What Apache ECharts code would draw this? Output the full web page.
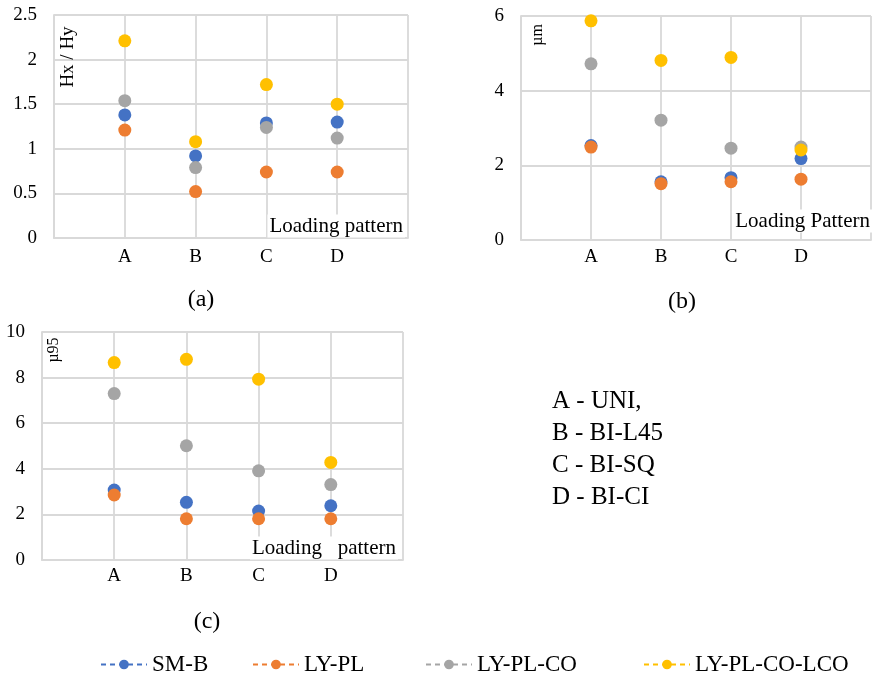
<!DOCTYPE html>
<html>
<head>
<meta charset="utf-8">
<script src="https://cdn.jsdelivr.net/npm/echarts@6/dist/echarts.min.js"></script>
<style>
  html, body { margin: 0; padding: 0; background: #fff; }
  #chart { width: 874px; height: 677px; }
</style>
</head>
<body>
<div id="chart"></div>
<script>
// Loading patterns (x positions 1..4)
const patterns = ['A', 'B', 'C', 'D'];
const patternNames = ['A - UNI,', 'B - BI-L45', 'C - BI-SQ', 'D - BI-CI'];
const seriesNames = ['SM-B', 'LY-PL', 'LY-PL-CO', 'LY-PL-CO-LCO'];
const seriesColors = ['#4472C4', '#ED7D31', '#A5A5A5', '#FFC000'];

// (a) Hx / Hy
const hxhySMB   = [1.38, 0.92, 1.29, 1.30];
const hxhyLYPL  = [1.21, 0.52, 0.74, 0.74];
const hxhyLYPLCO = [1.54, 0.79, 1.24, 1.12];
const hxhyLCO   = [2.21, 1.08, 1.72, 1.50];

// (b) µm
const umSMB    = [2.53, 1.56, 1.67, 2.18];
const umLYPL   = [2.49, 1.51, 1.56, 1.63];
const umLYPLCO = [4.72, 3.21, 2.46, 2.49];
const umLCO    = [5.87, 4.81, 4.89, 2.41];

// (c) µ95
const u95SMB    = [3.07, 2.53, 2.15, 2.38];
const u95LYPL   = [2.85, 1.81, 1.81, 1.81];
const u95LYPLCO = [7.30, 5.01, 3.91, 3.31];
const u95LCO    = [8.66, 8.80, 7.93, 4.28];

// y-axis ticks per panel
const yTicksA = { min: 0, max: 2.5, interval: 0.5 };
const yTicksB = { min: 0, max: 6, interval: 2 };
const yTicksC = { min: 0, max: 10, interval: 2 };

const panels = [
  { grid: { left: 54, top: 15, width: 354, height: 223 }, y: yTicksA, xMargin: 10,
    values: [hxhySMB, hxhyLYPL, hxhyLYPLCO, hxhyLCO] },
  { grid: { left: 521, top: 16, width: 352, height: 224 }, y: yTicksB, xMargin: 8,
    values: [umSMB, umLYPL, umLYPLCO, umLCO] },
  { grid: { left: 42, top: 332, width: 361, height: 228 }, y: yTicksC, xMargin: 7,
    values: [u95SMB, u95LYPL, u95LYPLCO, u95LCO] }
];

const FONT = '"Liberation Serif", "Times New Roman", serif';
const GRID_COLOR = '#d9d9d9';

const grids = [], xAxes = [], yAxes = [], series = [];
panels.forEach((p, gi) => {
  grids.push(Object.assign({ containLabel: false }, p.grid));
  xAxes.push({
    type: 'value', gridIndex: gi, min: 0, max: 5, interval: 1,
    axisLine: { show: true, lineStyle: { color: GRID_COLOR, width: 1.8 } },
    axisTick: { show: false },
    splitLine: { show: true, lineStyle: { color: GRID_COLOR, width: 1.8 } },
    axisLabel: {
      margin: p.xMargin, color: '#000', fontFamily: FONT, fontSize: 19,
      formatter: v => (v >= 1 && v <= 4) ? patterns[v - 1] : ''
    }
  });
  yAxes.push({
    type: 'value', gridIndex: gi, min: p.y.min, max: p.y.max, interval: p.y.interval,
    axisLine: { show: true, lineStyle: { color: GRID_COLOR, width: 1.8 } },
    axisTick: { show: false },
    splitLine: { show: true, lineStyle: { color: GRID_COLOR, width: 1.8 } },
    axisLabel: { margin: 17, color: '#000', fontFamily: FONT, fontSize: 19 }
  });
  p.values.forEach((vals, si) => {
    series.push({
      name: seriesNames[si], type: 'line', xAxisIndex: gi, yAxisIndex: gi,
      data: vals.map((v, i) => [i + 1, v]),
      symbol: 'circle', symbolSize: 13,
      itemStyle: { color: seriesColors[si] },
      lineStyle: { color: seriesColors[si], width: 0, opacity: 0 },
      emphasis: { disabled: true },
      z: 2 + si
    });
  });
});

function rotatedLabel(text, x, y, size) {
  return { type: 'text', x: x, y: y, rotation: Math.PI / 2, z: 10,
    style: { text: text, fill: '#000', font: size + 'px ' + FONT,
      align: 'center', verticalAlign: 'middle' } };
}
function boxedLabel(text, right, y) {
  return { type: 'text', x: right, y: y, z: 10,
    style: { text: text, fill: '#000', font: '21px ' + FONT,
      align: 'right', verticalAlign: 'middle', backgroundColor: '#fff', padding: [1, 2, 1, 2] } };
}
function plainText(text, x, y, size, align) {
  return { type: 'text', x: x, y: y, z: 10,
    style: { text: text, fill: '#000', font: size + 'px ' + FONT,
      align: align || 'center', verticalAlign: 'middle' } };
}

const graphics = [
  rotatedLabel('Hx / Hy', 68, 57, 19),
  rotatedLabel('µm', 538, 35, 16),
  rotatedLabel('µ95', 54, 350, 16),
  boxedLabel('Loading pattern', 405, 226),
  boxedLabel('Loading Pattern', 872, 221),
  boxedLabel('Loading   pattern', 398, 548),
  plainText('(a)', 201, 300, 24),
  plainText('(b)', 682, 302, 24),
  plainText('(c)', 207, 622, 24)
];
patternNames.forEach((t, i) => graphics.push(plainText(t, 552, 401 + i * 32, 25, 'left')));

// one legend block per series so each entry sits at its own spot
const legendLefts = [95, 247, 420, 638];
const legends = seriesNames.map((n, i) => ({
  data: [n],
  left: legendLefts[i], top: 648,
  itemWidth: 46, itemHeight: 12,
  lineStyle: { width: 2, type: [5, 4], opacity: 1 },
  textStyle: { fontFamily: FONT, fontSize: 23, color: '#000' },
  selectedMode: false
}));

const chart = echarts.init(document.getElementById('chart'), null, { renderer: 'canvas' });
chart.setOption({
  animation: false,
  backgroundColor: '#fff',
  grid: grids,
  xAxis: xAxes,
  yAxis: yAxes,
  series: series,
  legend: legends,
  graphic: graphics
});
</script>
</body>
</html>
